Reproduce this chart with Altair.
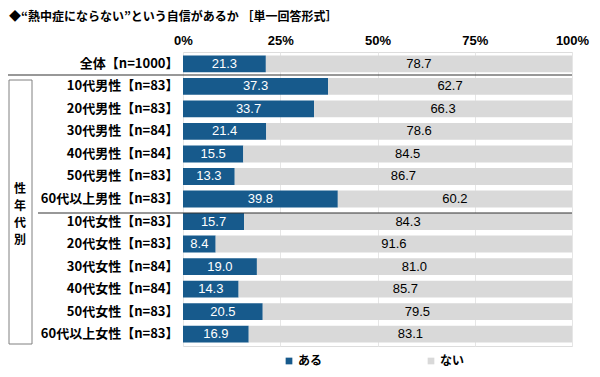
import altair as alt
import pandas as pd

categories = ["全体【n=1000】", "10代男性【n=83】", "20代男性【n=83】", "30代男性【n=84】",
              "40代男性【n=84】", "50代男性【n=83】", "60代以上男性【n=83】",
              "10代女性【n=83】", "20代女性【n=83】", "30代女性【n=84】",
              "40代女性【n=84】", "50代女性【n=83】", "60代以上女性【n=83】"]
aru = [21.3, 37.3, 33.7, 21.4, 15.5, 13.3, 39.8, 15.7, 8.4, 19.0, 14.3, 20.5, 16.9]
nai = [78.7, 62.7, 66.3, 78.6, 84.5, 86.7, 60.2, 84.3, 91.6, 81.0, 85.7, 79.5, 83.1]
series = ["ある", "ない"]
colors = ["#175a8c", "#d9d9d9"]
title_text = "◆“熱中症にならない”という自信があるか ［単一回答形式］"
side_label = "性\n年\n代\n別"

rows = []
for c, a, n in zip(categories, aru, nai):
    rows.append({"cat": c, "series": "ある", "order": 0, "value": a})
    rows.append({"cat": c, "series": "ない", "order": 1, "value": n})
df = pd.DataFrame(rows)

JP = "Noto Sans CJK JP"
W, H = 389, 294

base = alt.Chart(df).transform_stack(
    stack="value", as_=["v0", "v1"], groupby=["cat"],
    sort=[alt.SortField("order", order="ascending")]
).transform_calculate(mid="(datum.v0 + datum.v1) / 2")

yenc = alt.Y("cat:N", sort=categories, title=None,
             scale=alt.Scale(paddingInner=0.25, paddingOuter=0.15),
             axis=alt.Axis(domain=False, ticks=False, labelFont=JP, labelFontWeight="bold",
                           labelFontSize=13, labelColor="#000000", labelPadding=5))

bars = base.mark_bar().encode(
    x=alt.X("v0:Q", title=None, scale=alt.Scale(domain=[0, 100], nice=False),
            axis=alt.Axis(orient="top", values=[0, 25, 50, 75, 100],
                          labelExpr="datum.value + '%'", domain=False, ticks=False,
                          labelFont="Liberation Sans", labelFontWeight="bold",
                          labelFontSize=13, labelColor="#000000", labelPadding=5,
                          grid=True, gridColor="#e6e6e6",
                          labelOverlap=False, labelFlush=False)),
    x2="v1:Q",
    y=yenc,
    color=alt.Color("series:N", scale=alt.Scale(domain=series, range=colors), title=None,
                    legend=alt.Legend(orient="none", legendX=100, legendY=303,
                                      direction="horizontal", symbolType="square",
                                      symbolSize=45, symbolStrokeWidth=0,
                                      labelFont=JP, labelFontWeight="bold",
                                      labelFontSize=12, labelColor="#000000",
                                      columnPadding=102, labelOffset=3)),
)

texts = base.mark_text(font="Liberation Sans", fontSize=13, baseline="middle").encode(
    x="mid:Q",
    y=alt.Y("cat:N", sort=categories),
    text=alt.Text("value:Q", format=".1f"),
    color=alt.Color("series:N", scale=alt.Scale(domain=["ある", "ない"], range=["#ffffff", "#000000"]), legend=None),
)

one = pd.DataFrame({"t": [title_text]})
title = alt.Chart(one).mark_text(font=JP, fontWeight="bold", fontSize=12, align="left",
                                 baseline="middle").encode(
    x=alt.value(-174), y=alt.value(-35), text="t:N")

line1 = alt.Chart(one).mark_rule(color="#333333", strokeWidth=1.2).encode(
    x=alt.value(-175), x2=alt.value(W), y=alt.value(23))
line2 = alt.Chart(one).mark_rule(color="#333333", strokeWidth=1.2).encode(
    x=alt.value(-145), x2=alt.value(W), y=alt.value(161))
box = alt.Chart(one).mark_rect(fill=None, stroke="#808080", strokeWidth=1).encode(
    x=alt.value(-174), x2=alt.value(-151), y=alt.value(28), y2=alt.value(292))
side = alt.Chart(pd.DataFrame({"t": [side_label]})).mark_text(
    font=JP, fontWeight="bold", fontSize=12, lineBreak="\n", lineHeight=17,
    align="center", baseline="middle").encode(
    x=alt.value(-163), y=alt.value(137), text="t:N")

chart = alt.layer(bars, texts, line1, line2, box, side, title).resolve_scale(
    color="independent"
).properties(
    width=W, height=H,
    autosize=alt.AutoSizeParams(type="none"),
    padding={"left": 175, "top": 44, "right": 20, "bottom": 23},
).configure_view(stroke=None).configure(background="#ffffff")

chart.save("out.html", embed_options={"renderer": "svg", "actions": False})
